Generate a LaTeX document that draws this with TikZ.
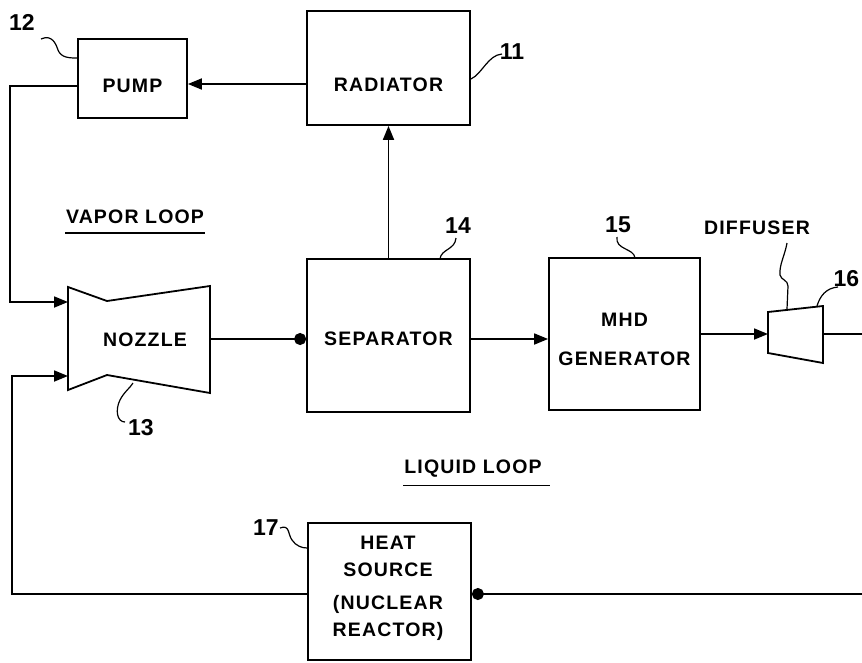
\documentclass[tikz,border=0pt]{standalone}
\usepackage{fontspec}
\setmainfont{Liberation Sans}
\newfontfamily\lblfont{Liberation Sans}[LetterSpace=6]
\usetikzlibrary{arrows.meta}
\begin{document}
\begin{tikzpicture}[x=1pt,y=-1pt,
  line width=1.8pt,
  blk/.style={draw,line width=1.8pt,inner sep=0pt,align=center},
  lbl/.style={font=\lblfont\fontsize{19.5}{27}\selectfont\bfseries,align=center,inner sep=0pt},
  num/.style={font=\fontsize{23}{24}\selectfont\bfseries,inner sep=0pt},
  lead/.style={line width=1.2pt},
  flow/.style={-{Triangle[length=14pt,width=11pt]}},
  dotflow/.style={-{Circle[length=12pt,width=12pt]}}]
\useasboundingbox (0,0) rectangle (862,662);
% boxes
\node[blk,minimum width=109pt,minimum height=79pt] (pump) at (132.5,78.5) {};
\node[lbl] (pumpt) at (132.5,86) {PUMP};
\node[blk,minimum width=163pt,minimum height=114pt] (rad) at (388.5,68) {};
\node[lbl] (radt) at (388.5,85) {RADIATOR};
\node[blk,minimum width=163pt,minimum height=153pt] (sep) at (388.5,335.5) {};
\node[lbl] (sept) at (388.5,339) {SEPARATOR};
\node[blk,minimum width=151pt,minimum height=152pt] (mhd) at (624.5,334) {};
\node[lbl] (mhdt) at (624.5,339) {MHD\\[12pt]GENERATOR};
\node[blk,minimum width=163pt,minimum height=137pt] (heat) at (389.5,591.5) {};
\node[lbl] (heatt) at (388,588) {HEAT\\SOURCE\\[6pt](NUCLEAR\\REACTOR)};
% nozzle
\coordinate (n1) at (68,287);
\coordinate (n2) at (107,301);
\coordinate (n3) at (210,286);
\coordinate (n4) at (210,393);
\coordinate (n5) at (107,375);
\coordinate (n6) at (68,390);
\draw[line join=miter] (n1) -- (n2) -- (n3) -- (n4) -- (n5) -- (n6) -- cycle;
\node[lbl] (nozt) at (145,340) {NOZZLE};
% diffuser
\coordinate (d1) at (768,312);
\coordinate (d2) at (823,306);
\coordinate (d3) at (823,363);
\coordinate (d4) at (768,353);
\draw (d1) -- (d2) -- (d3) -- (d4) -- cycle;
% connectors
\coordinate (c1) at (10,86);
\coordinate (c2) at (10,302);
\coordinate (noin1) at (68,302);
\coordinate (c3) at (12,594);
\coordinate (c4) at (12,376);
\coordinate (noin2) at (68,376);
\coordinate (noout) at (210,339);
\coordinate (difin) at (768,334);
\coordinate (difout) at (823,334);
\coordinate (rend) at (862,334);
\coordinate (hend) at (862,594);
\draw[flow] (rad.west |- 0,84) -- (pump.east |- 0,84);
\draw[flow] (pump.west |- 0,86) -- (c1) -- (c2) -- (noin1);
\draw[dotflow] (noout) -- (sep.west |- noout);
\draw[flow] (sep.north) -- (rad.south);
\draw[flow] (sep.east |- noout) -- (mhd.west |- noout);
\draw[flow] (mhd.east |- difin) -- (difin);
\draw (difout) -- (rend);
\draw[dotflow] (hend) -- (heat.east |- hend);
\draw[flow] (heat.west |- hend) -- (c3) -- (c4) -- (noin2);
% labels
\node[lbl] (vl) at (135,217) {VAPOR LOOP};
\draw[line width=1.6pt] (vl.south west) ++(0,8) -- ++(140,0);
\node[lbl] (ll) at (473,469) {LIQUID LOOP};
\draw[line width=1.6pt] (ll.south west) ++(0,7) -- ++(147,0);
\node[lbl] (dift) at (757,228) {DIFFUSER};
% numbers
\node[num] (n12) at (22,22) {12};
\draw[lead] (41,39) .. controls (52,34) and (56,44) .. (58,50) .. controls (61,58) and (70,58) .. (pump.north west |- 0,58);
\node[num] (n11) at (512,52) {11};
\draw[lead] (rad.east |- 0,79) .. controls (482,74) and (488,55) .. (502,54);
\node[num] (n14) at (458,226) {14};
\draw[lead] (456,238) .. controls (455,250) and (441,249) .. (440,259);
\node[num] (n15) at (618,225) {15};
\draw[lead] (617,237) .. controls (615,250) and (634,248) .. (635,258);
\draw[lead] (787,243) .. controls (785,255) and (779,265) .. (780,275) .. controls (781,280) and (788,280) .. (788,286) -- (787,309);
\node[num,anchor=east] (n16) at (860,279) {16};
\draw[lead] (838,287) .. controls (826,288) and (820,296) .. (817,306);
\node[num] (n13) at (141,428) {13};
\draw[lead] (125,422) .. controls (117,422) and (115,410) .. (120,400) .. controls (124,392) and (130,388) .. (133,383);
\node[num] (n17) at (266,528) {17};
\draw[lead] (280,528) .. controls (290,524) and (288,535) .. (292,540) .. controls (296,546) and (302,548) .. (heat.west |- 0,548);
\end{tikzpicture}
\end{document}
